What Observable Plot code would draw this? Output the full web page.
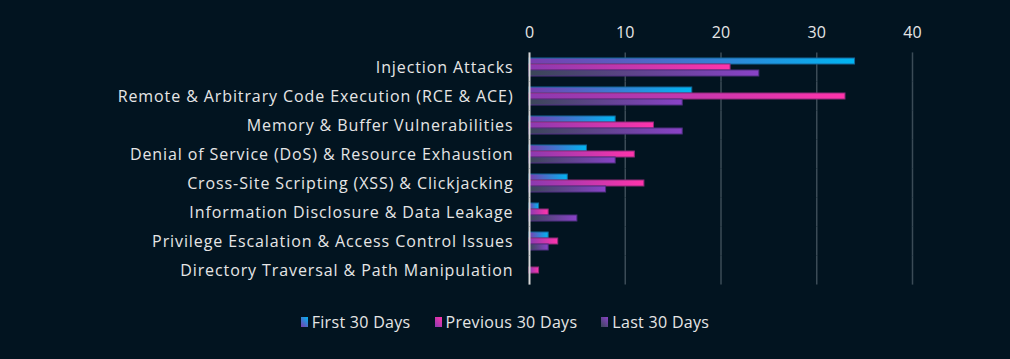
<!DOCTYPE html>
<html>
<head>
<meta charset="utf-8">
<script src="https://cdn.jsdelivr.net/npm/d3@7"></script>
<script src="https://cdn.jsdelivr.net/npm/@observablehq/plot@0.6"></script>
<style>
  html, body { margin: 0; padding: 0; background: #021420; }
  body { width: 1010px; height: 359px; overflow: hidden; font-family: "Open Sans", sans-serif; }
  #legend { display: flex; justify-content: center; align-items: center; height: 44px; color: #e6e6e6; font-size: 16px; letter-spacing: 0.3px; }
  .item { display: flex; align-items: center; margin: 0 12px; }
  .sw { width: 7px; height: 10px; margin-right: 4px; }
</style>
</head>
<body>
<div id="chart"></div>
<div id="legend"></div>
<script>
const categories = [
  "Injection Attacks",
  "Remote & Arbitrary Code Execution (RCE & ACE)",
  "Memory & Buffer Vulnerabilities",
  "Denial of Service (DoS) & Resource Exhaustion",
  "Cross-Site Scripting (XSS) & Clickjacking",
  "Information Disclosure & Data Leakage",
  "Privilege Escalation & Access Control Issues",
  "Directory Traversal & Path Manipulation"
];
const series = ["First 30 Days", "Previous 30 Days", "Last 30 Days"];
const firstValues = [34, 17, 9, 6, 4, 1, 2, 0];
const previousValues = [21, 33, 13, 11, 12, 2, 3, 1];
const lastValues = [24, 16, 16, 9, 8, 5, 2, 0];
const xTicks = [0, 10, 20, 30, 40];

const seriesValues = [firstValues, previousValues, lastValues];
const gradIds = ["gFirst", "gPrev", "gLast"];
const gradStops = [["#7b3cae", "#00b6f2"], ["#8a3ab0", "#ff34ab"], ["#3a4658", "#8a42c8"]];
const strokes = ["#14679a", "#8f2a78", "#4e2f80"];

const data = categories.flatMap((c, i) => series.map((s, j) => ({category: c, series: s, value: seriesValues[j][i], k: j})));

const fontFamily = "'Open Sans', sans-serif";

const plot = Plot.plot({
  width: 1010,
  height: 300,
  marginTop: 51,
  marginBottom: 15,
  marginLeft: 529,
  marginRight: 98,
  style: {background: "transparent", color: "#e6e6e6", fontFamily, fontSize: "16px"},
  x: {domain: [0, 40], ticks: xTicks, axis: "top", tickSize: 0, tickPadding: 21, label: null},
  fy: {domain: categories, paddingInner: 0.38, paddingOuter: 0.19, label: null, tickSize: 0, tickPadding: 16, axis: "left"},
  y: {domain: series, axis: null, paddingInner: 0.02, paddingOuter: 0},
  facet: {data, y: "category"},
  marks: [
    Plot.ruleX(xTicks.filter(t => t > 0), {stroke: "#3b4b56", strokeWidth: 1.5, insetTop: -5.6, insetBottom: -5.6}),
    ...series.map((s, j) => Plot.barX(data, {
      filter: d => d.series === s && d.value > 0,
      x: "value", y: "series", fill: `url(#${gradIds[j]})`, stroke: strokes[j], strokeWidth: 1
    })),
    Plot.ruleX([0], {stroke: "#d6d6d6", strokeWidth: 2, insetTop: -5.6, insetBottom: -5.6})
  ]
});

const svg = d3.select(plot);
const defs = svg.insert("defs", ":first-child");
gradIds.forEach((id, j) => {
  const g = defs.append("linearGradient").attr("id", id).attr("x1", "0").attr("x2", "1").attr("y1", "0").attr("y2", "0");
  g.append("stop").attr("offset", "0").attr("stop-color", gradStops[j][0]);
  g.append("stop").attr("offset", "1").attr("stop-color", gradStops[j][1]);
});
svg.selectAll("text").filter(function() { return categories.includes(this.textContent); })
  .style("letter-spacing", "0.9px");
document.getElementById("chart").appendChild(plot);

const legend = document.getElementById("legend");
series.forEach((s, j) => {
  const item = document.createElement("div");
  item.className = "item";
  const sw = document.createElement("div");
  sw.className = "sw";
  sw.style.background = `linear-gradient(45deg, ${gradStops[j][0]}, ${gradStops[j][1]})`;
  const t = document.createElement("span");
  t.textContent = s;
  item.appendChild(sw);
  item.appendChild(t);
  legend.appendChild(item);
});
</script>
</body>
</html>
